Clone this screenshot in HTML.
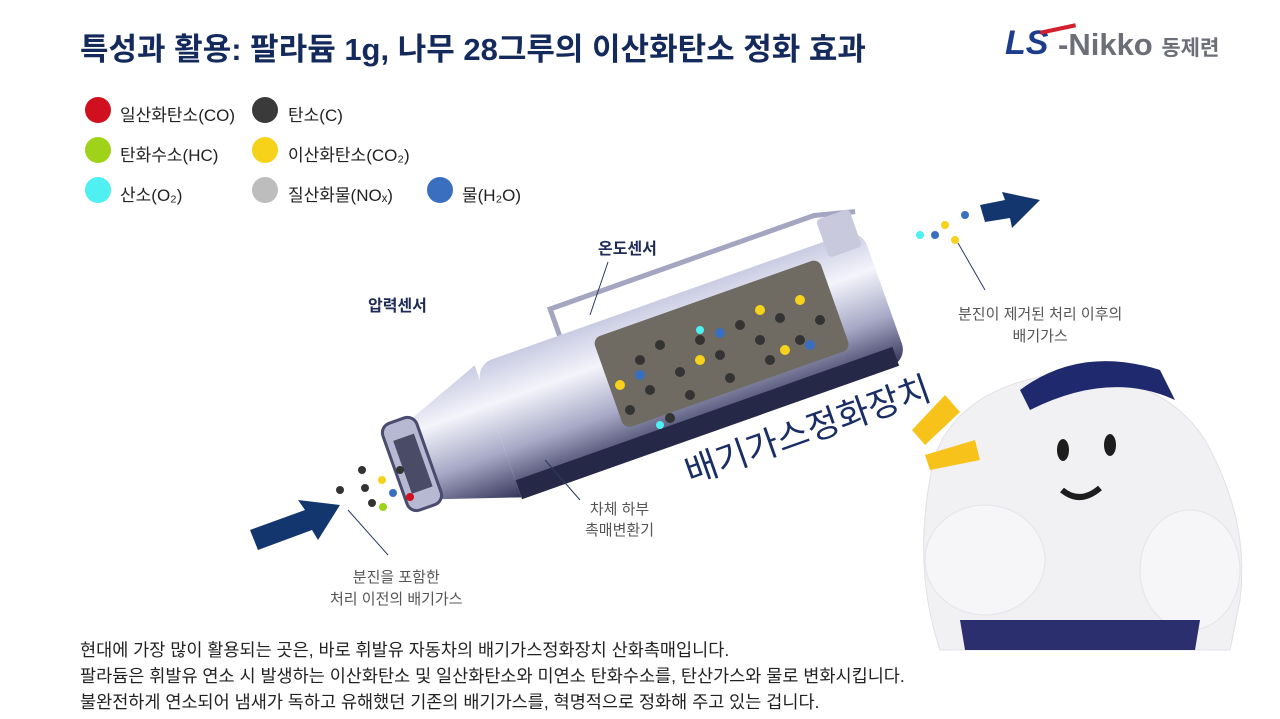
<!DOCTYPE html>
<html><head><meta charset="utf-8"><style>
body{margin:0;width:1280px;height:719px;background:#fff;overflow:hidden;position:relative;font-family:"Liberation Sans","Noto Sans CJK KR",sans-serif;color:#1d2b55}
.t{position:absolute;white-space:nowrap}
.lg{position:absolute;font-size:17px;color:#222}
.c{position:absolute;width:26px;height:26px;border-radius:50%}
</style></head><body>
<div class="t" style="left:80px;top:24px;font-size:31px;font-weight:bold;color:#142a5c">특성과 활용: 팔라듐 1g, 나무 28그루의 이산화탄소 정화 효과</div>
<div class="t" style="left:1005px;top:24px;font-size:34px;font-weight:bold;font-style:italic;color:#1e3c8c">LS</div>
<div class="t" style="left:1058px;top:27px;font-size:31px;font-weight:bold;color:#6c6f78">-Nikko <span style="font-size:21px">동제련</span></div>
<div style="position:absolute;left:1040px;top:27px;width:36px;height:4px;background:#d2202e;transform:rotate(-12deg)"></div>

<div class="c" style="left:85px;top:97px;background:#d0101e"></div><div class="lg" style="left:120px;top:101px">일산화탄소(CO)</div>
<div class="c" style="left:252px;top:97px;background:#3a3a3a"></div><div class="lg" style="left:288px;top:101px">탄소(C)</div>
<div class="c" style="left:85px;top:137px;background:#9fd31a"></div><div class="lg" style="left:120px;top:141px">탄화수소(HC)</div>
<div class="c" style="left:252px;top:137px;background:#f7d21a"></div><div class="lg" style="left:288px;top:141px">이산화탄소(CO₂)</div>
<div class="c" style="left:85px;top:177px;background:#4ef0f2"></div><div class="lg" style="left:120px;top:181px">산소(O₂)</div>
<div class="c" style="left:252px;top:177px;background:#bdbdbd"></div><div class="lg" style="left:288px;top:181px">질산화물(NOₓ)</div>
<div class="c" style="left:427px;top:177px;background:#3a6fc0"></div><div class="lg" style="left:462px;top:181px">물(H₂O)</div>

<svg style="position:absolute;left:0;top:0" width="1280" height="719">
<defs>
<linearGradient id="g" x1="0" y1="0" x2="0" y2="1"><stop offset="0" stop-color="#c9cbe2"/><stop offset=".3" stop-color="#f4f4fb"/><stop offset=".65" stop-color="#a7a9c6"/><stop offset="1" stop-color="#35365a"/></linearGradient>
</defs>
<polygon points="250,530 305,510 298,500 340,505 318,540 312,530 258,550" fill="#14366e"/>
<polygon points="980,205 1005,200 1002,192 1040,200 1012,228 1010,218 985,222" fill="#14366e"/>
<g transform="translate(395,470) rotate(-19.5)">
<path d="M200,-72 L200,-100 L480,-100 L520,-90" stroke="#a4a5c0" stroke-width="5" fill="none"/>
<rect x="110" y="-72" width="410" height="140" rx="18" fill="url(#g)"/>
<rect x="110" y="50" width="400" height="20" fill="#262848"/>
<polygon points="25,-40 110,-72 110,68 25,40" fill="url(#g)"/>
<rect x="0" y="-46" width="36" height="92" rx="10" fill="#b7b8d2" stroke="#4a4b6e" stroke-width="3"/>
<rect x="8" y="-28" width="22" height="56" fill="#4a4b66"/>
<rect x="230" y="-58" width="240" height="96" rx="8" fill="#6f6b63"/>
<rect x="480" y="-95" width="35" height="40" rx="4" fill="#c8c9dd"/>
</g>
<g fill="#333">
<circle cx="640" cy="360" r="5"/><circle cx="660" cy="345" r="5"/><circle cx="680" cy="372" r="5"/><circle cx="700" cy="340" r="5"/><circle cx="720" cy="355" r="5"/><circle cx="740" cy="325" r="5"/><circle cx="760" cy="340" r="5"/><circle cx="780" cy="318" r="5"/><circle cx="650" cy="390" r="5"/><circle cx="690" cy="395" r="5"/><circle cx="730" cy="378" r="5"/><circle cx="770" cy="360" r="5"/><circle cx="800" cy="340" r="5"/><circle cx="820" cy="320" r="5"/><circle cx="630" cy="410" r="5"/><circle cx="670" cy="418" r="5"/>
</g>
<g fill="#f7d21a"><circle cx="700" cy="360" r="5"/><circle cx="760" cy="310" r="5"/><circle cx="800" cy="300" r="5"/><circle cx="620" cy="385" r="5"/><circle cx="785" cy="350" r="5"/><circle cx="945" cy="225" r="4"/><circle cx="955" cy="240" r="4"/></g>
<g fill="#3a6fc0"><circle cx="720" cy="333" r="5"/><circle cx="810" cy="345" r="5"/><circle cx="640" cy="375" r="5"/><circle cx="935" cy="235" r="4"/><circle cx="965" cy="215" r="4"/></g>
<g fill="#4ef0f2"><circle cx="700" cy="330" r="4"/><circle cx="660" cy="425" r="4"/><circle cx="920" cy="235" r="4"/></g>
<g><circle cx="340" cy="490" r="4" fill="#333"/><circle cx="365" cy="488" r="4" fill="#333"/><circle cx="372" cy="503" r="4" fill="#333"/><circle cx="382" cy="480" r="4" fill="#f7d21a"/><circle cx="393" cy="493" r="4" fill="#3a6fc0"/><circle cx="383" cy="507" r="4" fill="#9fd31a"/><circle cx="410" cy="497" r="4" fill="#d0101e"/><circle cx="400" cy="470" r="4" fill="#333"/><circle cx="362" cy="470" r="4" fill="#333"/></g>
<g stroke="#2b3a5e" stroke-width="1" fill="none">
<line x1="608" y1="262" x2="590" y2="315"/><line x1="545" y1="460" x2="580" y2="500"/><line x1="348" y1="510" x2="388" y2="555"/><line x1="958" y1="243" x2="985" y2="290"/>
</g>
<path d="M935,455 Q960,390 1050,375 Q1160,370 1205,440 Q1250,520 1240,600 L1230,650 L940,650 Q910,560 935,455Z" fill="#f1f1f4" stroke="#e0e0e6"/>
<path d="M1020,390 Q1080,345 1160,370 L1175,400 Q1110,370 1030,410Z" fill="#1f2a6e"/>
<ellipse cx="1063" cy="450" rx="6" ry="11" fill="#1d1d1d"/><ellipse cx="1110" cy="445" rx="6" ry="11" fill="#1d1d1d"/>
<path d="M1062,490 Q1080,505 1100,488" stroke="#1d1d1d" stroke-width="6" fill="none"/>
<ellipse cx="985" cy="560" rx="60" ry="55" fill="#f6f6f8" stroke="#e3e3ea"/>
<ellipse cx="1190" cy="570" rx="50" ry="60" fill="#f6f6f8" stroke="#e3e3ea"/>
<path d="M960,620 L1200,620 L1195,650 L965,650Z" fill="#2b2f6e"/>
<polygon points="912,430 945,395 960,412 925,445" fill="#f7c21a"/>
<polygon points="925,455 975,440 980,460 930,470" fill="#f7c21a"/>
</svg>
<div class="t" style="left:598px;top:235px;font-size:16px;font-weight:bold">온도센서</div>
<div class="t" style="left:368px;top:292px;font-size:16px;font-weight:bold">압력센서</div>
<div class="t" style="left:807px;top:428px;font-size:35px;color:#1a2e66;transform:translate(-50%,-50%) rotate(-19.5deg)">배기가스정화장치</div>
<div class="t" style="left:585px;top:498px;font-size:15px;color:#555;text-align:center">차체 하부<br>촉매변환기</div>
<div class="t" style="left:330px;top:567px;font-size:15px;color:#555;text-align:center;line-height:22px">분진을 포함한<br>처리 이전의 배기가스</div>
<div class="t" style="left:958px;top:304px;font-size:15px;color:#555;text-align:center;line-height:22px">분진이 제거된 처리 이후의<br>배기가스</div>
<div class="t" style="left:80px;top:637px;font-size:17.5px;color:#222;line-height:26px">현대에 가장 많이 활용되는 곳은, 바로 휘발유 자동차의 배기가스정화장치 산화촉매입니다.<br>팔라듐은 휘발유 연소 시 발생하는 이산화탄소 및 일산화탄소와 미연소 탄화수소를, 탄산가스와 물로 변화시킵니다.<br>불완전하게 연소되어 냄새가 독하고 유해했던 기존의 배기가스를, 혁명적으로 정화해 주고 있는 겁니다.</div>
</body></html>
